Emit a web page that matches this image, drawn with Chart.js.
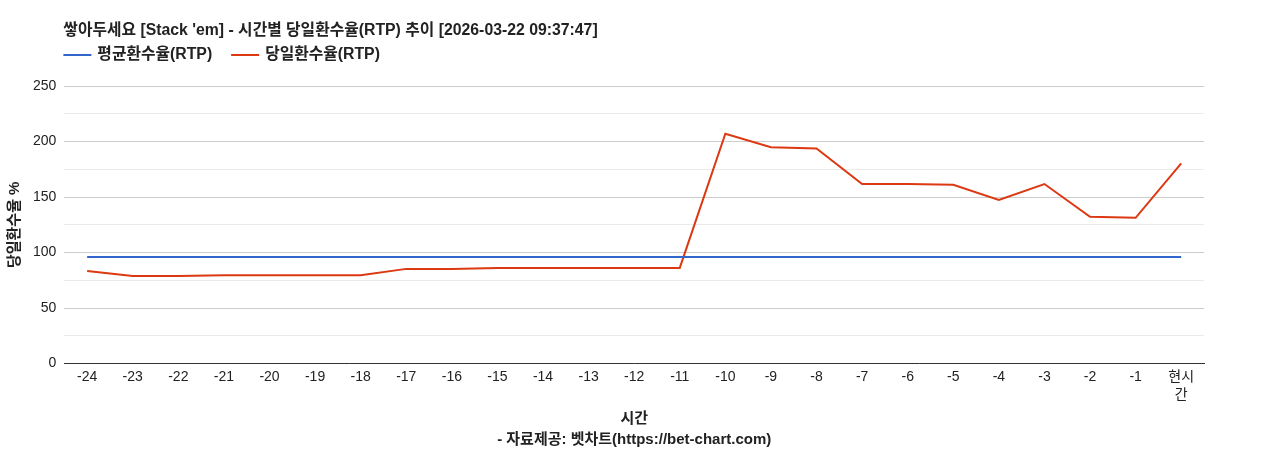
<!DOCTYPE html>
<html>
<head>
<meta charset="utf-8">
<script src="https://cdn.jsdelivr.net/npm/chart.js@4.4.0/dist/chart.umd.min.js"></script>
<style>
  html, body { margin: 0; padding: 0; background: #fff; }
  #wrap { width: 1268px; height: 450px; }
</style>
</head>
<body>
<div id="wrap"><canvas id="chart"></canvas></div>
<script>
const titleText = "쌓아두세요 [Stack 'em] - 시간별 당일환수율(RTP) 추이 [2026-03-22 09:37:47]";
const hours = ["-24", "-23", "-22", "-21", "-20", "-19", "-18", "-17", "-16", "-15", "-14", "-13",
    "-12", "-11", "-10", "-9", "-8", "-7", "-6", "-5", "-4", "-3", "-2", "-1", ["현시", "간"]];
const avgRtp = [96, 96, 96, 96, 96, 96, 96, 96, 96, 96, 96, 96, 96, 96, 96, 96, 96, 96, 96, 96, 96, 96, 96, 96, 96];
const dayRtp = [83.5, 79, 79, 79.5, 79.5, 79.5, 79.5, 85.3, 85.3, 86.2, 86.2, 86.2, 86.2, 86.2,
    207, 194.9, 193.7, 161.7, 161.7, 161.1, 147.3, 161.7, 132.2, 131.3, 180.4];
const yTicksMax = 250;

const FONT = "'Liberation Sans', Arial, 'Noto Sans CJK KR', sans-serif";

// title + legend drawn from the chart area's left edge, like the original
const headerPlugin = {
    id: "header",
    afterDraw(chart) {
        const ctx = chart.ctx;
        const left = chart.chartArea.left - 1;
        ctx.save();
        ctx.textBaseline = "middle";
        ctx.fillStyle = "#222";
        ctx.font = "bold 15.8px " + FONT;
        ctx.fillText(titleText, left, 31);

        let x = left;
        chart.data.datasets.forEach((ds) => {
            ctx.strokeStyle = ds.borderColor;
            ctx.lineWidth = 2;
            ctx.beginPath();
            ctx.moveTo(x, 55);
            ctx.lineTo(x + 28, 55);
            ctx.stroke();
            ctx.fillStyle = "#222";
            ctx.fillText(ds.label, x + 34, 55);
            x += 34 + ctx.measureText(ds.label).width + 19;
        });
        ctx.restore();
    }
};

new Chart(document.getElementById("chart"), {
    type: "line",
    data: {
        labels: hours,
        datasets: [
            {
                label: "평균환수율(RTP)",
                data: avgRtp,
                borderColor: "#3366cc",
                backgroundColor: "#3366cc",
                borderWidth: 2,
                pointRadius: 0,
                tension: 0
            },
            {
                label: "당일환수율(RTP)",
                data: dayRtp,
                borderColor: "#dc3912",
                backgroundColor: "#dc3912",
                borderWidth: 2,
                pointRadius: 0,
                tension: 0
            }
        ]
    },
    options: {
        responsive: true,
        maintainAspectRatio: false,
        animation: false,
        layout: { padding: { top: 86, right: 64, left: 6, bottom: 0 } },
        plugins: {
            legend: { display: false },
            title: { display: false },
            tooltip: { enabled: false }
        },
        scales: {
            x: {
                offset: true,
                grid: { display: false, drawTicks: false },
                border: { display: true, color: "#333", width: 1 },
                ticks: {
                    color: "#222",
                    padding: 4,
                    maxRotation: 0,
                    autoSkip: false,
                    font: { family: FONT, size: 14, lineHeight: 1.3 }
                },
                title: {
                    display: true,
                    text: ["시간", "- 자료제공: 벳차트(https://bet-chart.com)"],
                    color: "#222",
                    font: { family: FONT, size: 15, weight: "bold", lineHeight: 1.4 },
                    padding: { top: 0, bottom: 0 }
                }
            },
            y: {
                min: 0,
                max: yTicksMax,
                border: { display: false },
                grid: {
                    drawTicks: false,
                    color: (c) => (c.tick.value % 50 === 0 ? "#cccccc" : "#ebebeb")
                },
                ticks: {
                    stepSize: 25,
                    color: "#222",
                    padding: 8,
                    font: { family: FONT, size: 14 },
                    callback: (v) => (v % 50 === 0 ? v : "")
                },
                title: {
                    display: true,
                    text: "당일환수율 %",
                    color: "#222",
                    font: { family: FONT, size: 15, weight: "bold" },
                    padding: { top: 0, bottom: 1 }
                }
            }
        }
    },
    plugins: [headerPlugin]
});
</script>
</body>
</html>
